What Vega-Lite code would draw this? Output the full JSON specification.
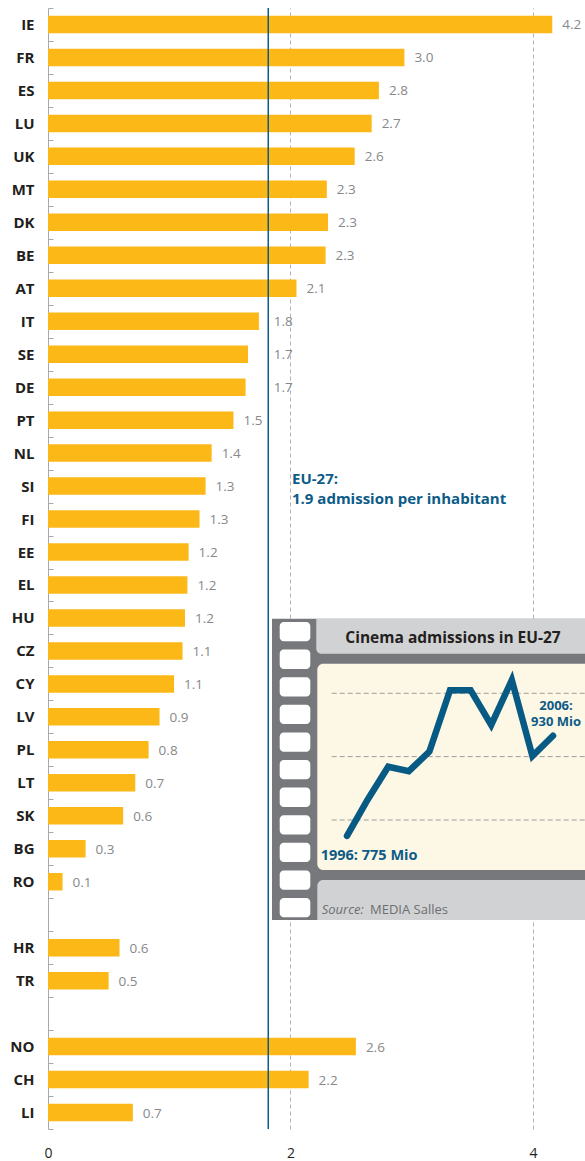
{
  "$schema": "https://vega.github.io/schema/vega-lite/v6.json",
  "width": 537,
  "height": 1121,
  "autosize": "none",
  "padding": {"left": 48, "top": 8, "right": 0, "bottom": 32},
  "background": "white",
  "config": {"view": {"stroke": null}, "font": "Open Sans"},
  "datasets": {
    "countries": [
      {"country": "IE", "value": 4.16, "label": "4.2"},
      {"country": "FR", "value": 2.94, "label": "3.0"},
      {"country": "ES", "value": 2.73, "label": "2.8"},
      {"country": "LU", "value": 2.67, "label": "2.7"},
      {"country": "UK", "value": 2.53, "label": "2.6"},
      {"country": "MT", "value": 2.30, "label": "2.3"},
      {"country": "DK", "value": 2.31, "label": "2.3"},
      {"country": "BE", "value": 2.29, "label": "2.3"},
      {"country": "AT", "value": 2.05, "label": "2.1"},
      {"country": "IT", "value": 1.74, "label": "1.8"},
      {"country": "SE", "value": 1.65, "label": "1.7"},
      {"country": "DE", "value": 1.63, "label": "1.7"},
      {"country": "PT", "value": 1.53, "label": "1.5"},
      {"country": "NL", "value": 1.35, "label": "1.4"},
      {"country": "SI", "value": 1.30, "label": "1.3"},
      {"country": "FI", "value": 1.25, "label": "1.3"},
      {"country": "EE", "value": 1.16, "label": "1.2"},
      {"country": "EL", "value": 1.15, "label": "1.2"},
      {"country": "HU", "value": 1.13, "label": "1.2"},
      {"country": "CZ", "value": 1.11, "label": "1.1"},
      {"country": "CY", "value": 1.04, "label": "1.1"},
      {"country": "LV", "value": 0.92, "label": "0.9"},
      {"country": "PL", "value": 0.83, "label": "0.8"},
      {"country": "LT", "value": 0.72, "label": "0.7"},
      {"country": "SK", "value": 0.62, "label": "0.6"},
      {"country": "BG", "value": 0.31, "label": "0.3"},
      {"country": "RO", "value": 0.12, "label": "0.1"},
      {"country": "HR", "value": 0.59, "label": "0.6"},
      {"country": "TR", "value": 0.50, "label": "0.5"},
      {"country": "NO", "value": 2.54, "label": "2.6"},
      {"country": "CH", "value": 2.15, "label": "2.2"},
      {"country": "LI", "value": 0.70, "label": "0.7"}
    ],
    "admissions": [
      {"year": 1996, "mio": 775},
      {"year": 1997, "mio": 832},
      {"year": 1998, "mio": 884},
      {"year": 1999, "mio": 877},
      {"year": 2000, "mio": 908},
      {"year": 2001, "mio": 1005},
      {"year": 2002, "mio": 1005},
      {"year": 2003, "mio": 950},
      {"year": 2004, "mio": 1021},
      {"year": 2005, "mio": 901},
      {"year": 2006, "mio": 933}
    ],
    "insetGrid": [{"mio": 800}, {"mio": 900}, {"mio": 1000}],
    "holes": [
      {"hole": 0}, {"hole": 1}, {"hole": 2}, {"hole": 3}, {"hole": 4}, {"hole": 5},
      {"hole": 6}, {"hole": 7}, {"hole": 8}, {"hole": 9}, {"hole": 10}
    ]
  },
  "resolve": {"scale": {"x": "independent", "y": "independent"}},
  "layer": [
    {
      "data": {"name": "countries"},
      "layer": [
        {
          "mark": {"type": "bar", "color": "#FBB817", "height": 17.5},
          "encoding": {
            "y": {
              "field": "country", "type": "nominal", "title": null,
              "scale": {
                "domain": ["IE","FR","ES","LU","UK","MT","DK","BE","AT","IT","SE","DE","PT","NL","SI","FI","EE","EL","HU","CZ","CY","LV","PL","LT","SK","BG","RO","gap1","HR","TR","gap2","NO","CH","LI"],
                "paddingInner": 0, "paddingOuter": 0
              },
              "axis": {
                "title": null,
                "labelExpr": "indexof(datum.label, 'gap') >= 0 ? '' : datum.label",
                "tickBand": "extent",
                "tickSize": -5,
                "tickColor": "#a7a9ac",
                "domainColor": "#a7a9ac",
                "labelFont": "Open Sans",
                "labelFontWeight": "bold",
                "labelFontSize": 15,
                "labelColor": "#231f20",
                "labelPadding": 19,
                "grid": false
              }
            },
            "x": {
              "field": "value", "type": "quantitative", "title": null,
              "scale": {"domain": [0, 4.43], "nice": false, "zero": true},
              "axis": {
                "title": null,
                "values": [0, 2, 4],
                "format": "d",
                "domain": false,
                "ticks": false,
                "tickSize": 0,
                "labelFlush": false,
                "labelFont": "Open Sans",
                "labelFontSize": 14,
                "labelColor": "#231f20",
                "labelPadding": 17,
                "grid": true,
                "gridDash": [4, 3],
                "gridColor": {"condition": {"test": "datum.value === 0", "value": "transparent"}, "value": "#b3b3b3"}
              }
            }
          }
        },
        {
          "transform": [{"calculate": "datum.value > 1.6 && datum.value < 1.78 ? 1.78 : datum.value", "as": "labelPos"}],
          "mark": {"type": "text", "align": "left", "baseline": "middle", "dx": 10, "dy": 1, "fontSize": 13.5, "color": "#87888a", "font": "Open Sans"},
          "encoding": {
            "y": {"field": "country", "type": "nominal", "title": null},
            "x": {"field": "labelPos", "type": "quantitative", "title": null},
            "text": {"field": "label"}
          }
        },
        {
          "data": {"values": [{}]},
          "mark": {"type": "rule", "color": "#0d5b87", "strokeWidth": 1.5},
          "encoding": {"x": {"datum": 1.817, "type": "quantitative", "title": null}}
        },
        {
          "data": {"values": [{}]},
          "mark": {"type": "text", "align": "left", "baseline": "alphabetic", "fontSize": 15, "fontWeight": "bold", "color": "#0d5b87", "lineHeight": 20, "dy": -2, "font": "Open Sans"},
          "encoding": {
            "x": {"datum": 2.013, "type": "quantitative", "title": null},
            "y": {"datum": "SI", "type": "nominal", "title": null},
            "text": {"value": ["EU-27:", "1.9 admission per inhabitant"]}
          }
        }
      ]
    },
    {
      "layer": [
        {
          "data": {"values": [{}]},
          "mark": {"type": "rect", "color": "#77787b"},
          "encoding": {
            "x": {"datum": 1992.359, "type": "quantitative", "scale": {"domain": [1981.485, 2007.553], "nice": false, "zero": false}, "axis": null},
            "x2": {"datum": 2007.553},
            "y": {"datum": 1117.8, "type": "quantitative", "scale": {"domain": [312.2, 2081.8], "nice": false, "zero": false}, "axis": null},
            "y2": {"datum": 642.1}
          }
        },
        {
          "data": {"values": [{}]},
          "mark": {"type": "rect", "color": "#d1d2d4", "cornerRadiusBottomLeft": 5},
          "encoding": {
            "x": {"datum": 1994.509, "type": "quantitative"},
            "x2": {"datum": 2007.553},
            "y": {"datum": 1117.3, "type": "quantitative"},
            "y2": {"datum": 1062.5}
          }
        },
        {
          "data": {"values": [{}]},
          "mark": {"type": "rect", "color": "#fdf7e5", "cornerRadiusTopLeft": 6, "cornerRadiusBottomLeft": 6},
          "encoding": {
            "x": {"datum": 1994.558, "type": "quantitative"},
            "x2": {"datum": 2007.553},
            "y": {"datum": 1046.7, "type": "quantitative"},
            "y2": {"datum": 721.1}
          }
        },
        {
          "data": {"values": [{}]},
          "mark": {"type": "rect", "color": "#d1d2d4", "cornerRadiusTopLeft": 6},
          "encoding": {
            "x": {"datum": 1994.558, "type": "quantitative"},
            "x2": {"datum": 2007.553},
            "y": {"datum": 705.3, "type": "quantitative"},
            "y2": {"datum": 642.1}
          }
        },
        {
          "data": {"name": "insetGrid"},
          "mark": {"type": "rule", "color": "#9d9d9d", "strokeWidth": 1, "strokeDash": [5, 3]},
          "encoding": {
            "x": {"datum": 1995.257, "type": "quantitative"},
            "x2": {"datum": 2007.553},
            "y": {"field": "mio", "type": "quantitative"}
          }
        },
        {
          "data": {"name": "admissions"},
          "mark": {"type": "line", "color": "#075a84", "strokeWidth": 6.5, "strokeCap": "round", "strokeJoin": "miter"},
          "encoding": {
            "x": {"field": "year", "type": "quantitative"},
            "y": {"field": "mio", "type": "quantitative"}
          }
        },
        {
          "data": {"values": [{}]},
          "mark": {"type": "text", "align": "center", "baseline": "middle", "fontSize": 15.5, "fontWeight": "bold", "color": "#231f20", "font": "Open Sans"},
          "encoding": {
            "x": {"datum": 2001.146, "type": "quantitative"},
            "y": {"datum": 1087.3, "type": "quantitative"},
            "text": {"value": "Cinema admissions in EU-27"}
          }
        },
        {
          "data": {"values": [{}]},
          "mark": {"type": "text", "align": "left", "baseline": "alphabetic", "fontSize": 13, "fontStyle": "italic", "color": "#6d6e71", "font": "Open Sans"},
          "encoding": {
            "x": {"datum": 1994.771, "type": "quantitative"},
            "y": {"datum": 651.6, "type": "quantitative"},
            "text": {"value": "Source:"}
          }
        },
        {
          "data": {"values": [{}]},
          "mark": {"type": "text", "align": "left", "baseline": "alphabetic", "fontSize": 13, "color": "#6d6e71", "font": "Open Sans"},
          "encoding": {
            "x": {"datum": 1997.116, "type": "quantitative"},
            "y": {"datum": 651.6, "type": "quantitative"},
            "text": {"value": "MEDIA Salles"}
          }
        },
        {
          "data": {"values": [{}]},
          "mark": {"type": "text", "align": "left", "baseline": "alphabetic", "fontSize": 14.5, "fontWeight": "bold", "color": "#0d5b87", "font": "Open Sans"},
          "encoding": {
            "x": {"datum": 1994.723, "type": "quantitative"},
            "y": {"datum": 736.9, "type": "quantitative"},
            "text": {"value": "1996: 775 Mio"}
          }
        },
        {
          "data": {"values": [{}]},
          "mark": {"type": "text", "align": "center", "baseline": "alphabetic", "fontSize": 13, "fontWeight": "bold", "color": "#0d5b87", "font": "Open Sans"},
          "encoding": {
            "x": {"datum": 2006.145, "type": "quantitative"},
            "y": {"datum": 973.6, "type": "quantitative"},
            "text": {"value": "2006:"}
          }
        },
        {
          "data": {"values": [{}]},
          "mark": {"type": "text", "align": "center", "baseline": "alphabetic", "fontSize": 13, "fontWeight": "bold", "color": "#0d5b87", "font": "Open Sans"},
          "encoding": {
            "x": {"datum": 2006.145, "type": "quantitative"},
            "y": {"datum": 948.4, "type": "quantitative"},
            "text": {"value": "930 Mio"}
          }
        }
      ]
    },
    {
      "data": {"name": "holes"},
      "mark": {"type": "rect", "color": "white", "height": 19.3, "cornerRadius": 4},
      "encoding": {
        "x": {"datum": 1992.733, "type": "quantitative", "scale": {"domain": [1981.485, 2007.553], "nice": false, "zero": false}, "axis": null},
        "x2": {"datum": 1994.218},
        "y": {"field": "hole", "type": "quantitative", "scale": {"domain": [-22.596, 18.02], "reverse": true, "nice": false, "zero": false}, "axis": null}
      }
    }
  ]
}
